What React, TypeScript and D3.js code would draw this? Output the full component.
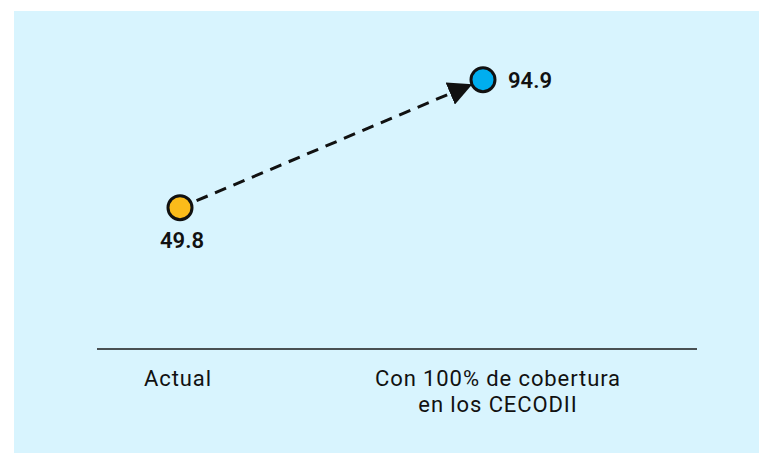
import React, { useEffect, useRef } from 'react';
import * as d3 from 'd3';

const categories = ['Actual', 'Con 100% de cobertura\nen los CECODII'];
const values = [49.8, 94.9];
const pointColors = ['#fbbb1a', '#00aeef'];

const App: React.FC = () => {
  const ref = useRef<SVGSVGElement>(null);

  useEffect(() => {
    if (!ref.current) return;
    const width = 759;
    const height = 453;
    const svg = d3.select(ref.current);
    svg.selectAll('*').remove();

    svg.append('rect')
      .attr('x', 14)
      .attr('y', 11)
      .attr('width', width - 14)
      .attr('height', height - 11)
      .attr('fill', '#d8f4fe');

    const baseline = 349;
    const y = d3.scaleLinear().domain([0, 100]).range([baseline, baseline - 283.8]);
    const x = d3.scalePoint<string>().domain(categories).range([180, 483]);
    const labelX = d3.scalePoint<string>().domain(categories).range([178, 498]);

    // axis line
    svg.append('line')
      .attr('x1', 97)
      .attr('x2', 697)
      .attr('y1', baseline)
      .attr('y2', baseline)
      .attr('stroke', '#1a1a1a')
      .attr('stroke-width', 1.5);

    // category labels, one text per line
    categories.forEach(c => {
      c.split('\n').forEach((line, i) => {
        svg.append('text')
          .attr('x', labelX(c)!)
          .attr('y', 386 + i * 26)
          .attr('text-anchor', 'middle')
          .attr('font-family', 'Roboto, sans-serif')
          .attr('font-size', '22px')
          .attr('letter-spacing', '0.9px')
          .attr('fill', '#111')
          .text(line);
      });
    });

    const r = 12;
    const defs = svg.append('defs');
    defs.append('marker')
      .attr('id', 'arrow')
      .attr('viewBox', '0 0 10 10')
      .attr('refX', 9)
      .attr('refY', 5)
      .attr('markerWidth', 8)
      .attr('markerHeight', 8)
      .attr('markerUnits', 'strokeWidth')
      .attr('orient', 'auto')
      .append('path')
      .attr('d', 'M0,0 L10,5 L0,10 z')
      .attr('fill', '#111');

    // dashed arrow between points
    const x0 = x(categories[0])!, y0 = y(values[0]);
    const x1 = x(categories[1])!, y1 = y(values[1]);
    const ang = Math.atan2(y1 - y0, x1 - x0);
    svg.append('line')
      .attr('x1', x0 + Math.cos(ang) * (r + 6))
      .attr('y1', y0 + Math.sin(ang) * (r + 6))
      .attr('x2', x1 - Math.cos(ang) * (r + 2))
      .attr('y2', y1 - Math.sin(ang) * (r + 2))
      .attr('stroke', '#111')
      .attr('stroke-width', 3)
      .attr('stroke-dasharray', '12,8')
      .attr('marker-end', 'url(#arrow)');

    svg.selectAll('.pt')
      .data(values)
      .enter()
      .append('circle')
      .attr('cx', (d, i) => x(categories[i])!)
      .attr('cy', d => y(d))
      .attr('r', r)
      .attr('fill', (d, i) => pointColors[i])
      .attr('stroke', '#111')
      .attr('stroke-width', 3);

    // value labels
    svg.append('text')
      .attr('x', x0 + 2)
      .attr('y', y0 + 40)
      .attr('text-anchor', 'middle')
      .attr('font-family', 'Roboto, sans-serif')
      .attr('font-weight', 600)
      .attr('font-size', '22px')
      .attr('fill', '#111')
      .text(values[0].toFixed(1));

    svg.append('text')
      .attr('x', x1 + 25)
      .attr('y', y1 + 8)
      .attr('text-anchor', 'start')
      .attr('font-family', 'Roboto, sans-serif')
      .attr('font-weight', 600)
      .attr('font-size', '22px')
      .attr('fill', '#111')
      .text(values[1].toFixed(1));
  }, []);

  return (
    <div style={{ position: 'absolute', left: 0, top: 0 }}>
      <svg ref={ref} width={759} height={453} style={{ display: 'block' }} />
    </div>
  );
};

export default App;
